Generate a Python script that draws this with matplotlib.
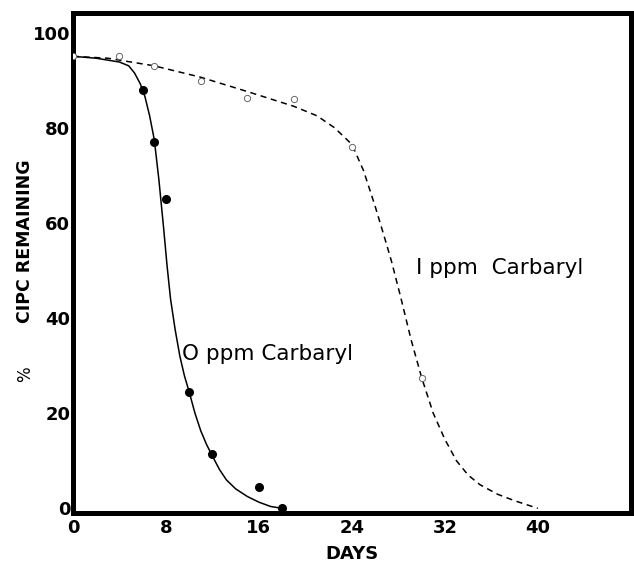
import matplotlib
matplotlib.use("Agg")
import matplotlib.pyplot as plt

# Data
# 0 ppm Carbaryl: measured points (filled circles)
days_0ppm = [6, 7, 8, 10, 12, 16, 18]
cipc_0ppm = [88, 77, 65, 24.5, 11.4, 4.5, 0]
# 0 ppm: hand-drawn fitted curve
curve0_x = [0, 2, 4, 4.8, 5.3, 5.8, 6.2, 6.6, 7, 7.4, 7.8, 8.1, 8.4, 8.8, 9.2,
            9.6, 10, 10.5, 11, 11.5, 12, 12.6, 13.2, 14, 15, 16, 17, 18]
curve0_y = [95, 94.6, 93.8, 93, 91.5, 89.2, 86.5, 82.5, 77.5, 69, 59, 51, 44, 37.5, 32,
            27.8, 24.5, 20, 16.3, 13.4, 11, 8.2, 6, 4.1, 2.5, 1.3, 0.4, 0]

# 1 ppm Carbaryl: measured points (open circles)
days_1ppm = [0, 4, 7, 11, 15, 19, 24, 30]
cipc_1ppm = [95, 95, 93, 89.8, 86.2, 86, 76, 27.4]
# 1 ppm: hand-drawn fitted curve
curve1_x = [0, 3, 7, 11, 15, 19, 21, 22.5, 24, 25, 26, 26.8, 27.4, 28.2, 29.1,
            30, 31, 32, 33, 34, 35, 36.5, 38, 40]
curve1_y = [95, 94.6, 93, 90.6, 87.6, 84.5, 82.5, 80, 76.5, 71, 63.5, 57, 52, 44.4, 35.4,
            27.5, 20, 14.5, 10, 7, 5, 3, 1.6, 0]

xticks = [0, 8, 16, 24, 32, 40]
yticks = [0, 20, 40, 60, 80, 100]

fig = plt.figure(figsize=(6.34, 5.62), dpi=100)
ax = fig.add_axes([0.115, 0.087, 0.88, 0.889])

ax.plot(curve0_x, curve0_y, color="black", lw=1.1, solid_joinstyle="round")
ax.plot(days_0ppm, cipc_0ppm, "o", color="black", ms=5.5, zorder=3)

ax.plot(curve1_x, curve1_y, color="black", lw=1.1, dashes=(4, 3))
ax.plot(days_1ppm, cipc_1ppm, "o", mfc="white", mec="#666666", mew=0.7, ms=4.5, zorder=3)

ax.text(9.4, 32.5, "O ppm Carbaryl", fontsize=15.5, va="center", ha="left")
ax.text(29.5, 50.5, "I ppm  Carbaryl", fontsize=15.5, va="center", ha="left")

ax.set_xlim(0, 48)
ax.set_ylim(-1, 104)
ax.set_xticks(xticks)
ax.set_xticklabels([str(t) for t in xticks])
ax.set_yticks(yticks)
ax.set_yticklabels([str(t) for t in yticks])
ax.tick_params(axis="x", length=0, labelsize=13, pad=4)
ax.tick_params(axis="y", length=0, labelsize=13, pad=2)
for lab in ax.get_xticklabels() + ax.get_yticklabels():
    lab.set_fontweight("bold")

for s in ax.spines.values():
    s.set_linewidth(3.6)

ax.set_xlabel("DAYS", fontsize=13, fontweight="bold", labelpad=6)
fig.text(0.04, 0.57, "CIPC REMAINING", rotation=90, fontsize=12.5,
         fontweight="bold", ha="center", va="center")
fig.text(0.04, 0.335, "%", rotation=90, fontsize=12, ha="center", va="center")

fig.savefig("out.png", dpi=100)
